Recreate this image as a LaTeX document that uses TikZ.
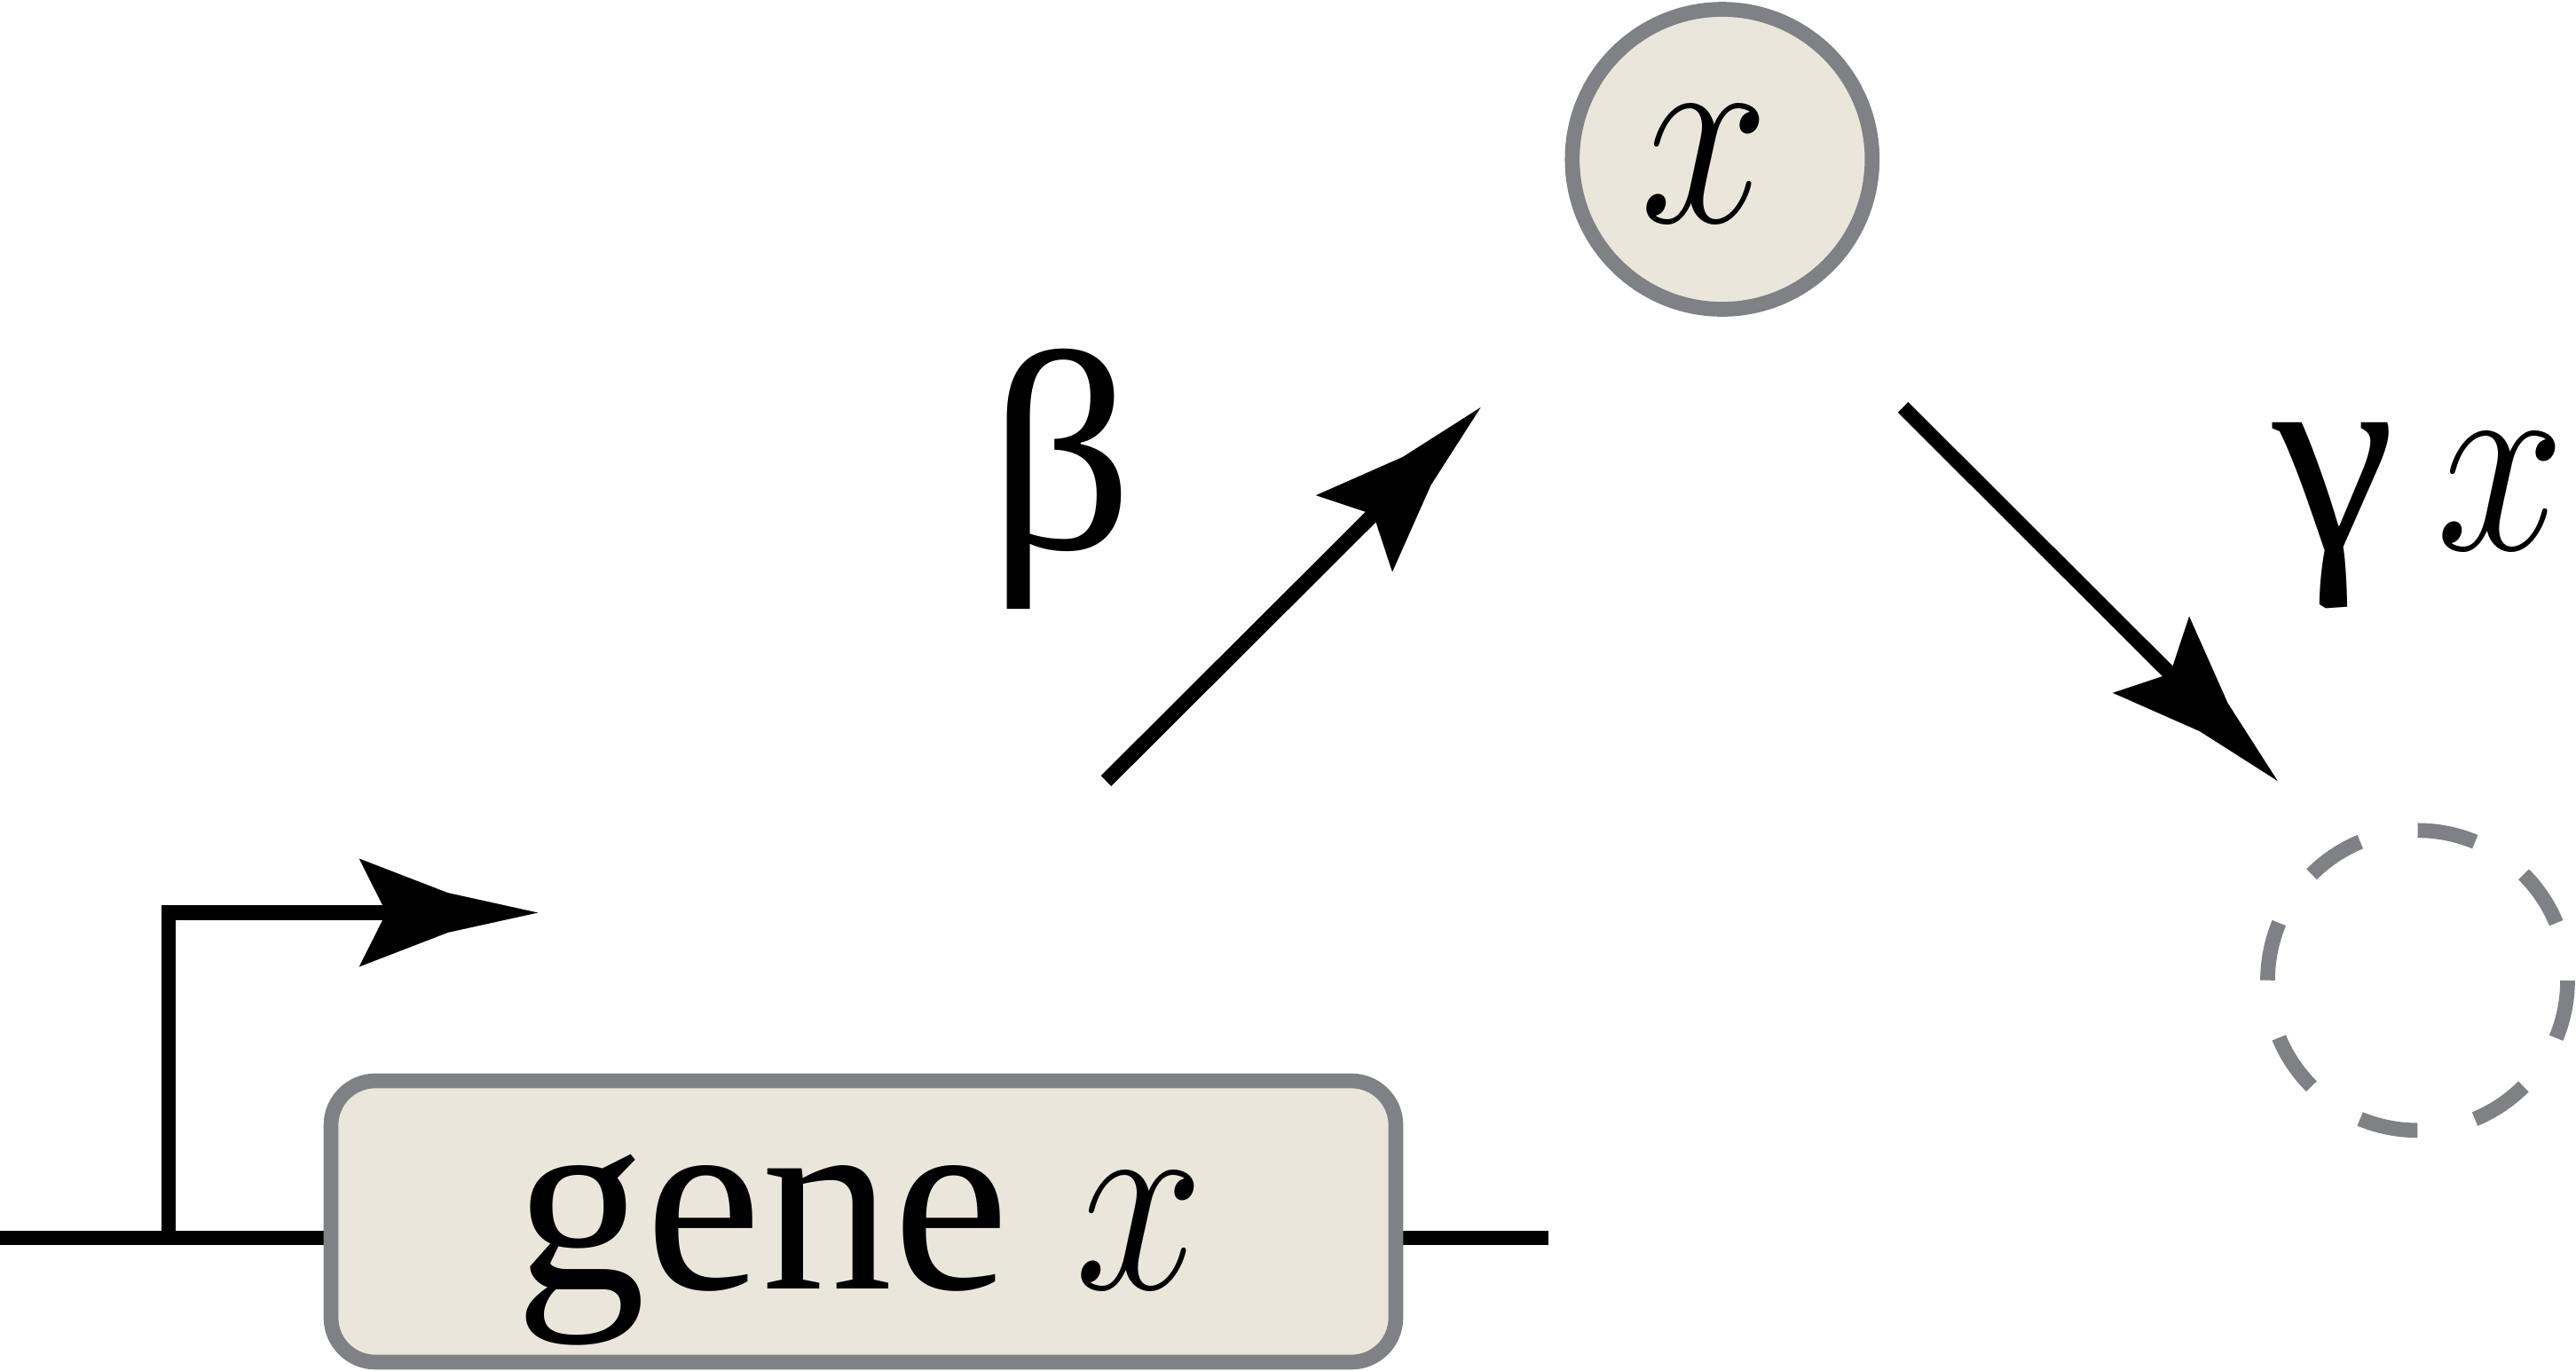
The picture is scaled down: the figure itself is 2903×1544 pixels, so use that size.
\RequirePackage{fix-cm}
\documentclass[tikz,border=0pt]{standalone}
\usepackage{graphicx}
\usepackage{fontspec}
\setmainfont{Liberation Serif}
\usetikzlibrary{arrows.meta}
\definecolor{beige}{RGB}{234,230,220}
\definecolor{rim}{RGB}{128,129,133}
\newcommand{\varx}{{\fontsize{76}{80}\selectfont\scalebox{0.86}[1]{$x$}}}
\pgfdeclarearrow{
  name=Kink,
  setup code={
    \pgfarrowssettipend{0pt}
    \pgfarrowssetlineend{-38pt}
    \pgfarrowssetvisualbackend{-42.75pt}
    \pgfarrowssetbackend{-50.4pt}
    \pgfarrowshullpoint{0pt}{0pt}
    \pgfarrowsupperhullpoint{-50.4pt}{15.25pt}
  },
  drawing code={
    \pgfpathmoveto{\pgfqpoint{0pt}{0pt}}
    \pgfpathlineto{\pgfqpoint{-25.4pt}{5.6pt}}
    \pgfpathlineto{\pgfqpoint{-50.4pt}{15.25pt}}
    \pgfpathlineto{\pgfqpoint{-42.75pt}{0pt}}
    \pgfpathlineto{\pgfqpoint{-50.4pt}{-15.25pt}}
    \pgfpathlineto{\pgfqpoint{-25.4pt}{-5.6pt}}
    \pgfpathclose
    \pgfusepathqfill
  }
}
\tikzset{
  lbl/.style={font=\fontsize{73.75}{80}\selectfont, inner sep=0pt, anchor=base},
  dna/.style={line width=4.15pt, black},
  conn/.style={line width=4.12pt, black, -Kink},
  genebox/.style={rectangle, rounded corners=12.5pt, minimum width=300pt,
    minimum height=79.25pt, line width=4.17pt, draw=rim, fill=beige, inner sep=0pt},
  species/.style={circle, minimum size=84.5pt, inner sep=0pt, line width=4.17pt,
    draw=rim, fill=beige},
  sinkc/.style={circle, minimum size=84.5pt, inner sep=0pt, line width=4.17pt,
    draw=rim, dash pattern=on 16.59pt off 16.59pt, dash phase=16.59pt}
}
\begin{document}
\begin{tikzpicture}[x=0.25pt, y=-0.25pt]
\useasboundingbox (0,0) rectangle (2903,1544);
% DNA line
\coordinate (dl) at (0,1395);
\coordinate (dr) at (1745,1395);
\draw[dna] (dl) -- (1000,1395);
\draw[dna] (1000,1395) -- (dr);
\node[genebox] (gene) at (973,1376.5) {};
\node[lbl] (genetxt) at (968.5,1452) {gene \varx};
% promoter
\coordinate (pr0) at (190,1395);
\coordinate (prt) at (606.3,1028.5);
\draw[conn] (pr0) |- (prt);
% species x
\node[species] (xnode) at (1940.8,179.5) {};
\node[lbl] (xtxt) at (1921,250) {\varx};
% degradation sink
\node[sinkc] (sink) at (2724.5,1104.8) {};
% production arrow
\coordinate (bs) at (1246.5,880);
\coordinate (bt) at (1668.7,459);
\draw[conn] (bs) -- (bt);
\node[lbl, font=\fontsize{80}{86}\selectfont] (beta) at (1196,618) {β};
% degradation arrow
\coordinate (gs) at (2144.7,459);
\coordinate (gt) at (2566.7,880);
\draw[conn] (gs) -- (gt);
\node[lbl, font=\fontsize{78}{84}\selectfont] (gam) at (2630,619) {γ};
\node[lbl] (gamx) at (2818,619) {\varx};
\end{tikzpicture}
\end{document}
